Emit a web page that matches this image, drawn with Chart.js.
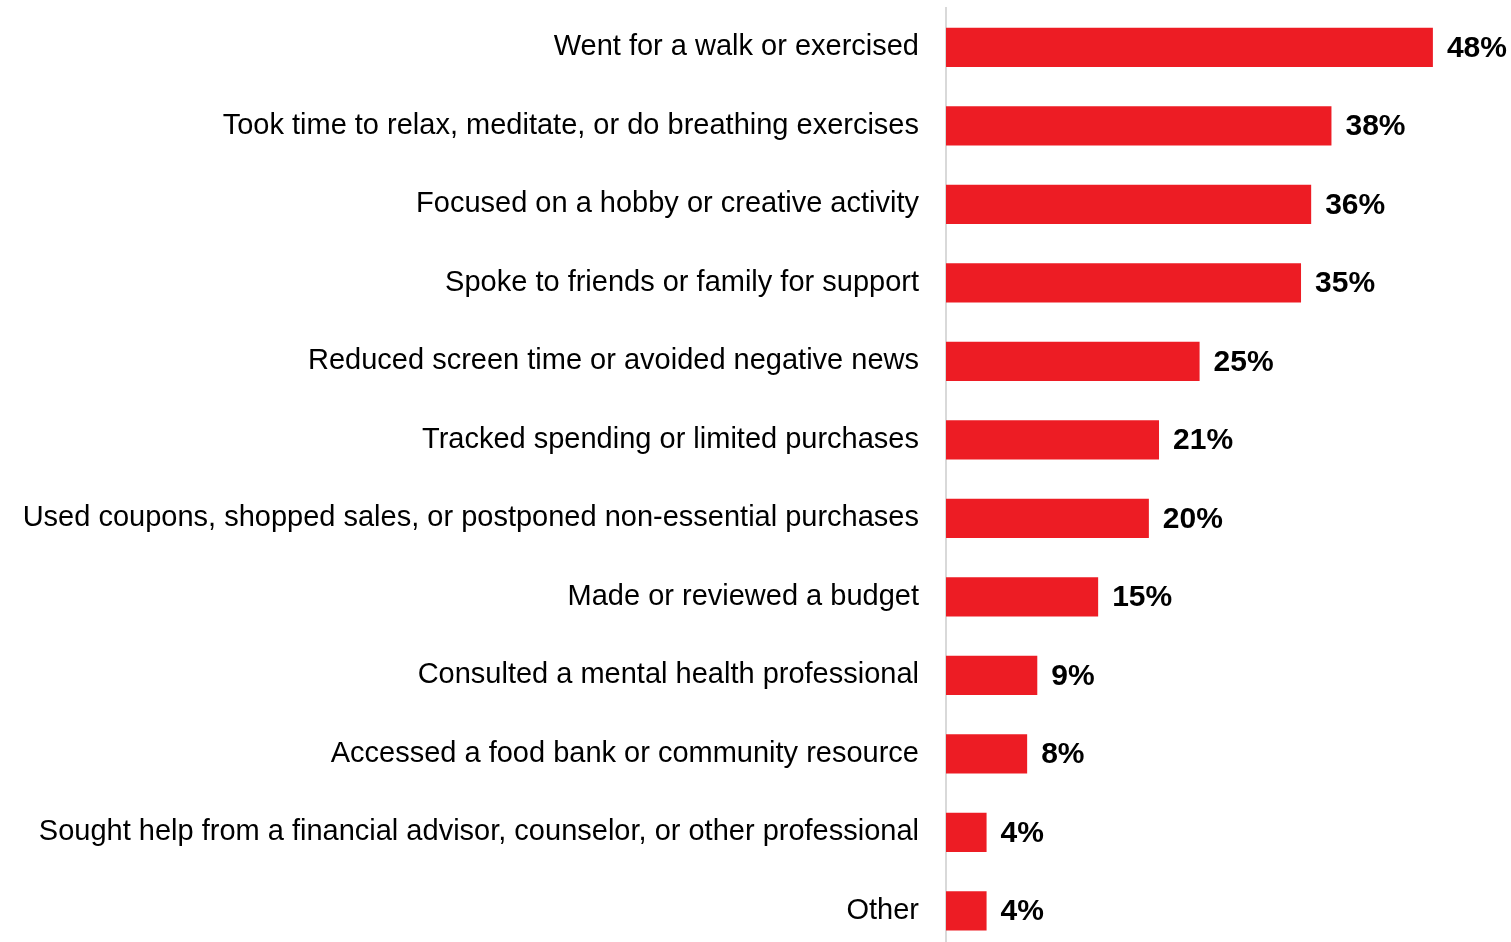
<!DOCTYPE html>
<html>
<head>
<meta charset="utf-8">
<title>Coping actions</title>
<script src="https://cdn.jsdelivr.net/npm/chart.js@4/dist/chart.umd.min.js"></script>
<style>
  html, body { margin: 0; padding: 0; background: #fff; overflow: hidden; }
  #wrap { position: relative; width: 1511px; height: 950px; }
</style>
</head>
<body>
<div id="wrap"><canvas id="chart"></canvas></div>
<script>
const categories = [
  'Went for a walk or exercised',
  'Took time to relax, meditate, or do breathing exercises',
  'Focused on a hobby or creative activity',
  'Spoke to friends or family for support',
  'Reduced screen time or avoided negative news',
  'Tracked spending or limited purchases',
  'Used coupons, shopped sales, or postponed non-essential purchases',
  'Made or reviewed a budget',
  'Consulted a mental health professional',
  'Accessed a food bank or community resource',
  'Sought help from a financial advisor, counselor, or other professional',
  'Other'
];
const shares = [48, 38, 36, 35, 25, 21, 20, 15, 9, 8, 4, 4];

const BAR_RED = '#ED1C24';
const FONT = '"Liberation Sans", Arial, Helvetica, sans-serif';
const LABEL_AXIS_WIDTH = 946;

// prints the percentage just past the end of each bar
const valueLabels = {
  id: 'valueLabels',
  afterDatasetsDraw(chart) {
    const { ctx } = chart;
    const meta = chart.getDatasetMeta(0);
    ctx.save();
    ctx.font = 'bold 30px ' + FONT;
    ctx.fillStyle = '#000';
    ctx.textAlign = 'left';
    ctx.textBaseline = 'middle';
    meta.data.forEach((bar, i) => {
      ctx.fillText(shares[i] + '%', bar.x + 14, bar.y + 1);
    });
    ctx.restore();
  }
};

new Chart(document.getElementById('chart'), {
  type: 'bar',
  data: {
    labels: categories,
    datasets: [{
      data: shares,
      backgroundColor: BAR_RED,
      borderWidth: 0,
      barPercentage: 0.5,
      categoryPercentage: 1.0
    }]
  },
  options: {
    indexAxis: 'y',
    responsive: true,
    maintainAspectRatio: false,
    animation: false,
    layout: { padding: { top: 8, right: 0, bottom: 0, left: 0 } },
    plugins: {
      legend: { display: false },
      tooltip: { enabled: false }
    },
    scales: {
      x: {
        min: 0,
        max: 55.7,
        display: false
      },
      y: {
        grid: { display: false, drawTicks: false },
        border: { display: true, color: '#d9d9d9', width: 2 },
        ticks: {
          color: '#000',
          padding: 27,
          font: { family: FONT, size: 29 }
        },
        // the long labels need more room than the default half-width cap
        afterFit(scale) {
          scale.width = LABEL_AXIS_WIDTH;
          scale.paddingTop = 0;
          scale.paddingBottom = 0;
        }
      }
    }
  },
  plugins: [valueLabels]
});
</script>
</body>
</html>
